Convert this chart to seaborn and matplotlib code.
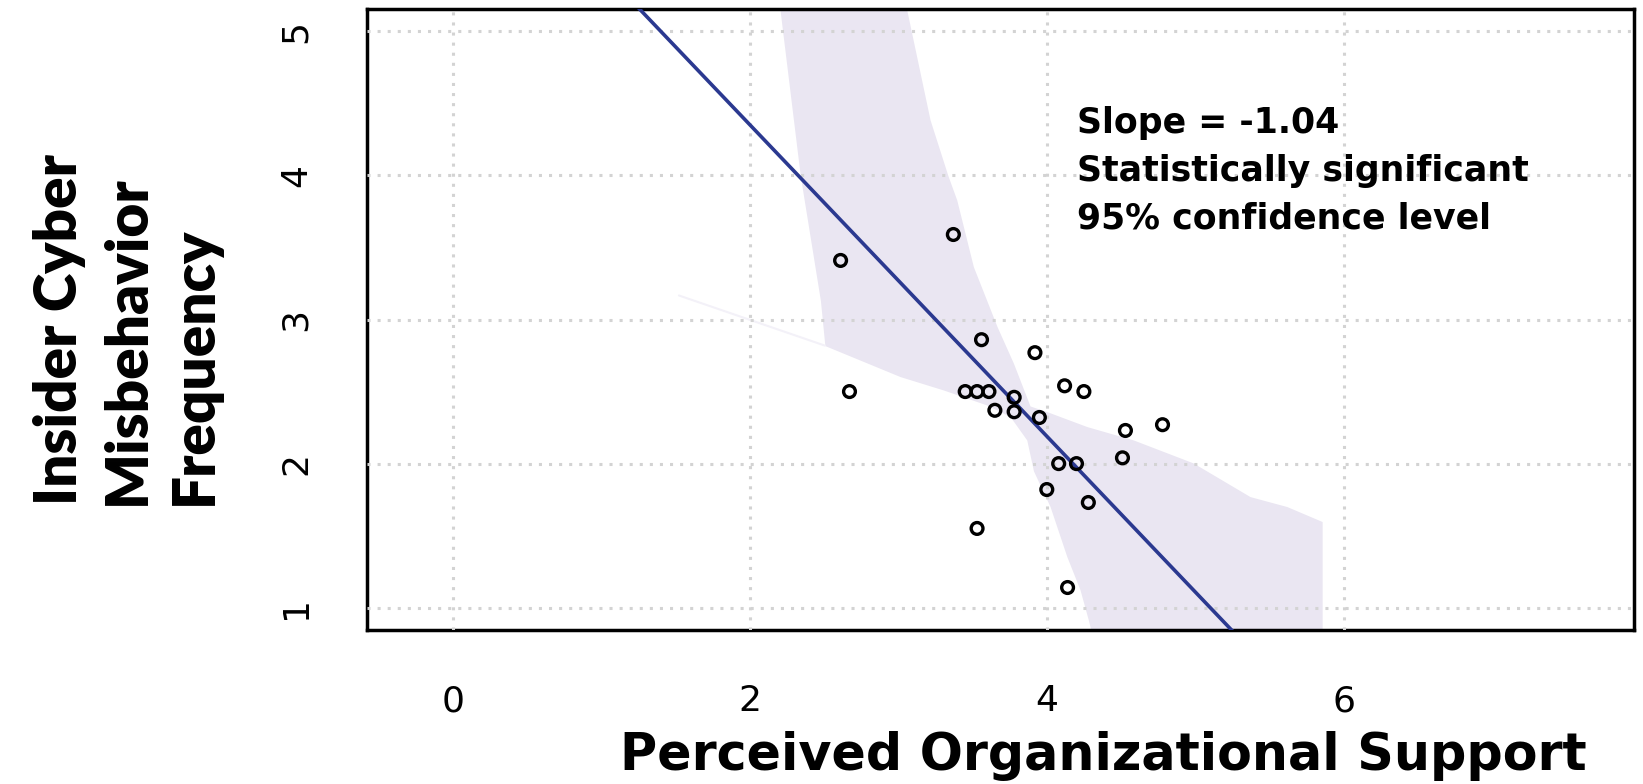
import numpy as np
import pandas as pd
import matplotlib
matplotlib.use("Agg")
import matplotlib.pyplot as plt
import seaborn as sns

# ---------------- data ----------------
pos = [3.37, 2.61, 3.56, 3.92, 2.67, 3.45, 3.53, 3.61, 3.78, 3.65, 3.78, 3.95,
       4.12, 4.25, 4.53, 4.78, 4.51, 4.08, 4.20, 4.00, 4.28, 3.53, 4.14]
icm = [3.59, 3.41, 2.86, 2.77, 2.50, 2.50, 2.50, 2.50, 2.46, 2.37, 2.36, 2.32,
       2.54, 2.50, 2.23, 2.27, 2.04, 2.00, 2.00, 1.82, 1.73, 1.55, 1.14]

fit_intercept = 6.51
fit_slope = -1.08

# confidence band outline (upper / lower boundary vertices)
band_upper_x = [2.16, 3.00, 3.056, 3.213, 3.333, 3.393, 3.505, 3.665, 3.775, 3.887,
                4.00, 4.27, 4.584, 4.986, 5.37, 5.618, 5.856]
band_upper_y = [5.60, 5.45, 5.149, 4.386, 4.00, 3.83, 3.367, 2.95, 2.697, 2.40,
                2.361, 2.257, 2.164, 2.005, 1.771, 1.702, 1.598]
band_lower_x = [2.16, 2.202, 2.338, 2.474, 2.504, 3.011, 3.303, 3.595, 3.753, 3.865,
                3.91, 4.022, 4.135, 4.224, 4.28, 4.32, 5.856]
band_lower_y = [5.45, 5.146, 4.00, 3.132, 2.819, 2.604, 2.511, 2.407, 2.326, 2.164,
                1.95, 1.702, 1.355, 1.124, 0.915, 0.75, 0.50]
sliver_x = [1.52, 2.504]
sliver_y = [3.167, 2.819]

x_ticks = [0, 2, 4, 6]
y_ticks = [1, 2, 3, 4, 5]
x_limits = (-0.582, 7.959)
y_limits = (0.845, 5.155)

x_label = "Perceived Organizational Support"
y_label = "Insider Cyber\nMisbehavior\nFrequency"
note = "Slope = -1.04\nStatistically significant\n95% confidence level"

# ---------------- style ----------------
sns.set_style("white")
plt.rcParams["font.family"] = ["DejaVu Sans"]
plt.rcParams["text.color"] = "black"
plt.rcParams["axes.labelcolor"] = "black"
plt.rcParams["xtick.color"] = "black"
plt.rcParams["ytick.color"] = "black"

band_color = "#EAE6F2"
line_color = "#2B3990"
grid_color = "#D3D3D3"

fig = plt.figure(figsize=(16.43, 7.84), dpi=100)
ax = fig.add_axes([0.2234, 0.1964, 0.7712, 0.7921])

# band
gx = np.unique(np.concatenate([band_upper_x, band_lower_x]))
gu = np.interp(gx, band_upper_x, band_upper_y)
gl = np.interp(gx, band_lower_x, band_lower_y)
ax.fill_between(gx, gl, gu, color=band_color, linewidth=0, zorder=1)
ax.plot(sliver_x, sliver_y, color="#F3F1F8", linewidth=1.5, zorder=1)

# regression line
lx = np.array(x_limits)
line_df = pd.DataFrame({"x": lx, "y": fit_intercept + fit_slope * lx})
sns.lineplot(data=line_df, x="x", y="y", color=line_color, linewidth=2.6,
             ax=ax, zorder=3)

# points
pts = pd.DataFrame({"pos": pos, "icm": icm})
sns.scatterplot(data=pts, x="pos", y="icm", marker="o", s=72,
                facecolor="none", edgecolor="black", linewidth=2.4,
                ax=ax, zorder=4)

ax.set_xlim(*x_limits)
ax.set_ylim(*y_limits)
ax.set_xticks(x_ticks)
ax.set_yticks(y_ticks)
ax.set_xticklabels([str(t) for t in x_ticks])
ax.set_yticklabels([str(t) for t in y_ticks])
ax.set_xlabel("")
ax.set_ylabel("")

ax.set_axisbelow(False)
ax.grid(True, color=grid_color, linestyle=(0, (1, 2.3)), linewidth=2.2, zorder=2.5)

for sp in ax.spines.values():
    sp.set_visible(True)
    sp.set_color("black")
    sp.set_linewidth(2.5)

ax.tick_params(axis="both", which="major", direction="out", length=18,
               width=2.4, color="black", labelsize=26, pad=21, labelcolor="black")
ax.tick_params(axis="y", labelrotation=90)
for lab in ax.get_yticklabels():
    lab.set_va("center")

# annotation
ax.text(4.204, 4.033, note, ha="left", va="center", fontsize=25,
        fontweight="bold", family="DejaVu Sans", linespacing=1.5,
        color="black", zorder=5)

# axis titles
fig.text(0.6715, 0.0179, x_label, ha="center", va="baseline", fontsize=36.5,
         fontweight="bold", family="DejaVu Sans", color="black")
fig.text(0.0773, 0.3559, y_label, rotation=90, ha="center", va="bottom",
         multialignment="left", fontsize=42, fontweight="heavy",
         family=["Lato", "DejaVu Sans"], linespacing=1.32, color="black")

fig.savefig("out.png", dpi=100, facecolor="white")
